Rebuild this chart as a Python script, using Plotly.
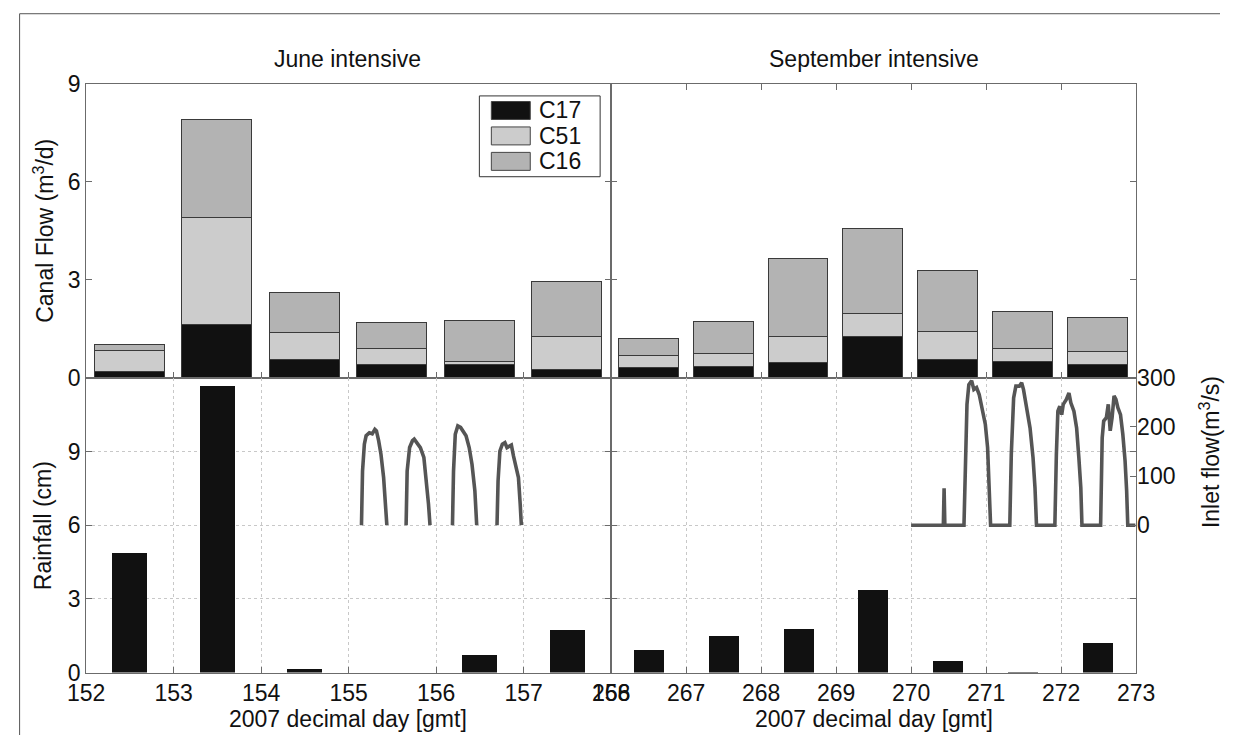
import plotly.graph_objects as go

W, H = 1239, 748

# ---------------- data ----------------
june_days = [152.5, 153.5, 154.5, 155.5, 156.5, 157.5]
sept_days = [266.5, 267.5, 268.5, 269.5, 270.5, 271.5, 272.5]

june_c17 = [0.17, 1.63, 0.54, 0.38, 0.38, 0.25]
june_c51 = [0.65, 3.28, 0.84, 0.49, 0.12, 0.99]
june_c16 = [0.20, 2.99, 1.21, 0.82, 1.25, 1.69]

sept_c17 = [0.31, 0.34, 0.46, 1.25, 0.54, 0.49, 0.40]
sept_c51 = [0.37, 0.38, 0.80, 0.72, 0.87, 0.40, 0.40]
sept_c16 = [0.50, 0.98, 2.38, 2.59, 1.85, 1.13, 1.03]

june_rain = [4.87, 11.67, 0.16, 0.0, 0.73, 1.75]
sept_rain = [0.91, 1.49, 1.80, 3.37, 0.47, 0.03, 1.22]

june_inlet_t = [155.147, 155.159, 155.18, 155.20, 155.237, 155.27, 155.30, 155.318, 155.343, 155.37, 155.40, 155.424, 155.437, None,
                155.657, 155.669, 155.697, 155.73, 155.75, 155.779, 155.82, 155.86, 155.889, 155.913, 155.93, None,
                156.187, 156.199, 156.219, 156.248, 156.28, 156.31, 156.342, 156.378, 156.41, 156.443, 156.464, None,
                156.696, 156.708, 156.729, 156.757, 156.786, 156.81, 156.839, 156.86, 156.884, 156.912, 156.941, 156.961, 156.974]
june_inlet_q = [0, 110, 165, 182, 188, 186, 195, 192, 172, 144, 97, 43, 0, None,
                0, 110, 158, 172, 175, 168, 158, 138, 90, 43, 0, None,
                0, 110, 185, 202, 199, 192, 182, 158, 124, 70, 0, None,
                0, 90, 151, 165, 168, 158, 161, 163, 141, 117, 97, 43, 0]

sept_inlet_t = [270.0, 270.43, 270.44, 270.45,
                270.705, 270.72, 270.745, 270.77, 270.807, 270.837, 270.873, 270.908, 270.949, 270.99, 271.02, 271.04, 271.06,
                271.316, 271.336, 271.367, 271.397, 271.443, 271.474, 271.499, 271.535, 271.586, 271.626, 271.652, 271.672,
                271.917, 271.937, 271.957, 271.983, 272.008, 272.029, 272.07, 272.105, 272.13, 272.171, 272.207, 272.237, 272.263, 272.278,
                272.527, 272.548, 272.568, 272.604, 272.629, 272.655, 272.68, 272.706, 272.731, 272.757, 272.792, 272.823, 272.853, 272.874, 272.889,
                272.99]
sept_inlet_q = [0, 0, 75, 0,
                0, 110, 246, 286, 294, 276, 280, 266, 239, 205, 158, 90, 0,
                0, 144, 259, 283, 283, 290, 276, 246, 198, 137, 76, 0,
                0, 144, 232, 242, 225, 246, 256, 269, 249, 232, 198, 137, 76, 0,
                0, 178, 212, 219, 246, 192, 219, 263, 256, 239, 225, 185, 131, 70, 0,
                0]

series_names = ["C17", "C51", "C16"]
series_colors = ["#111111", "#cccccc", "#b3b3b3"]

june_ticks = [152, 153, 154, 155, 156, 157, 158]
sept_ticks = [266, 267, 268, 269, 270, 271, 272, 273]

# ---------------- layout helpers ----------------
# target-picture pixel -> paper fraction (the photographed page is inset/scaled slightly)
SX, OX = 0.9712, 17.75
SY, OY = 0.9674, 10.9

def px(x):
    return ((x - OX) / SX) / W

def py(y):
    return 1 - ((y - OY) / SY) / H

FS = 23
FONT = "Liberation Sans, Arial, Helvetica, sans-serif"
LINE = "#6b6b6b"
GRID = "#c8c8c8"
xL = [px(85), px(611)]
xR = [px(611), px(1137)]
yT = [py(376.5), py(82)]
yB = [py(672), py(376.5)]

fig = go.Figure()

# canal flow stacked bars
for vals, name, col in zip([june_c17, june_c51, june_c16], series_names, series_colors):
    fig.add_trace(go.Bar(x=june_days, y=vals, name=name, width=0.8, marker=dict(color=col, line=dict(color="#3a3a3a", width=1)),
                         xaxis="x", yaxis="y", showlegend=False))
for vals, name, col in zip([sept_c17, sept_c51, sept_c16], series_names, series_colors):
    fig.add_trace(go.Bar(x=sept_days, y=vals, name=name, width=0.8, marker=dict(color=col, line=dict(color="#3a3a3a", width=1)),
                         xaxis="x2", yaxis="y2", showlegend=False))

# rainfall bars
fig.add_trace(go.Bar(x=june_days, y=june_rain, width=0.4, marker=dict(color="#111111", line=dict(width=0)),
                     xaxis="x3", yaxis="y3", showlegend=False))
fig.add_trace(go.Bar(x=sept_days, y=sept_rain, width=0.4, marker=dict(color="#111111", line=dict(width=0)),
                     xaxis="x4", yaxis="y4", showlegend=False))

# inlet flow lines
fig.add_trace(go.Scatter(x=june_inlet_t, y=june_inlet_q, mode="lines", line=dict(color="#555555", width=3.6),
                         connectgaps=False, xaxis="x3", yaxis="y6", showlegend=False))
fig.add_trace(go.Scatter(x=sept_inlet_t, y=sept_inlet_q, mode="lines", line=dict(color="#555555", width=3.6),
                         xaxis="x4", yaxis="y5", showlegend=False))

base = dict(showline=True, linecolor=LINE, linewidth=1, ticks="inside", ticklen=6, tickcolor=LINE,
            zeroline=False, tickfont=dict(size=FS, color="#111111", family=FONT))
grid = dict(showgrid=True, gridcolor=GRID, griddash="dot", gridwidth=1)
nogrid = dict(showgrid=False)

fig.update_layout(
    width=W, height=H, margin=dict(l=0, r=0, t=0, b=0),
    paper_bgcolor="white", plot_bgcolor="white",
    font=dict(family=FONT, size=FS, color="#111111"),
    barmode="stack", bargap=0,
    xaxis=dict(**base, **nogrid, domain=xL, anchor="y", range=[152, 158], tickvals=june_ticks[1:-1],
               showticklabels=False, mirror=True),
    yaxis=dict(**base, **nogrid, domain=yT, anchor="x", range=[0, 9], tickvals=[0, 3, 6, 9], mirror="ticks"),
    xaxis2=dict(**base, **nogrid, domain=xR, anchor="y2", range=[266, 273], tickvals=sept_ticks[1:-1],
                showticklabels=False, mirror="ticks"),
    yaxis2=dict(**base, **nogrid, domain=yT, anchor="x2", range=[0, 9], tickvals=[3, 6],
                showticklabels=False, mirror="ticks"),
    xaxis3=dict(**base, **grid, domain=xL, anchor="y3", range=[152, 158], tickvals=june_ticks, mirror=True),
    yaxis3=dict(**base, **grid, domain=yB, anchor="x3", range=[0, 12], tickvals=[0, 3, 6, 9], mirror="ticks"),
    xaxis4=dict(**base, **grid, domain=xR, anchor="y4", range=[266, 273], tickvals=sept_ticks, mirror=True),
    yaxis4=dict(**base, **grid, domain=yB, anchor="x4", range=[0, 12], tickvals=[3, 6, 9],
                showticklabels=False, mirror="ticks"),
    yaxis5=dict(**base, **nogrid, overlaying="y4", anchor="x4", side="right", range=[-300, 300],
                tickvals=[0, 100, 200, 300]),
    yaxis6=dict(overlaying="y3", anchor="x3", range=[-300, 300], visible=False, showgrid=False, zeroline=False),
)
fig.update_layout(yaxis5=dict(showline=False))

ann = [
    dict(text="June intensive", x=px(347), y=py(57)),
    dict(text="September intensive", x=px(874), y=py(57)),
    dict(text="2007 decimal day [gmt]", x=px(347), y=py(718)),
    dict(text="2007 decimal day [gmt]", x=px(874), y=py(718)),
    dict(text="Canal Flow (m<sup>3</sup>/d)", x=px(42), y=py(229), textangle=-90),
    dict(text="Rainfall (cm)", x=px(42), y=py(525), textangle=-90),
    dict(text="Inlet flow(m<sup>3</sup>/s)", x=px(1211), y=py(451), textangle=-90),
]
annotations = []
for a in ann:
    d = dict(xref="paper", yref="paper", showarrow=False, xanchor="center", yanchor="middle",
             font=dict(size=FS, color="#111111", family=FONT))
    d.update(a)
    annotations.append(d)

# outer frame (top & left edges) and a manual legend with large swatches as in the original
shapes = [
    dict(type="line", xref="paper", yref="paper", x0=0.0005, x1=1, y0=0.999, y1=0.999, line=dict(color="#555555", width=1)),
    dict(type="line", xref="paper", yref="paper", x0=0.0005, x1=0.0005, y0=0.999, y1=0, line=dict(color="#555555", width=1)),
    dict(type="rect", xref="paper", yref="paper", x0=px(479), x1=px(600), y0=py(175), y1=py(94),
         line=dict(color="#333333", width=1), fillcolor="white"),
]
for i, (name, col) in enumerate(zip(series_names, series_colors)):
    yc = 108.6 + 25.5 * i
    shapes.append(dict(type="rect", xref="paper", yref="paper", x0=px(491), x1=px(530), y0=py(yc + 9), y1=py(yc - 9),
                       line=dict(color="#444444", width=1), fillcolor=col))
    annotations.append(dict(text=name, xref="paper", yref="paper", x=px(537), y=py(yc), showarrow=False,
                            xanchor="left", yanchor="middle", font=dict(size=FS, color="#111111", family=FONT)))

fig.update_layout(annotations=annotations, shapes=shapes)

fig.write_html("out.html")
